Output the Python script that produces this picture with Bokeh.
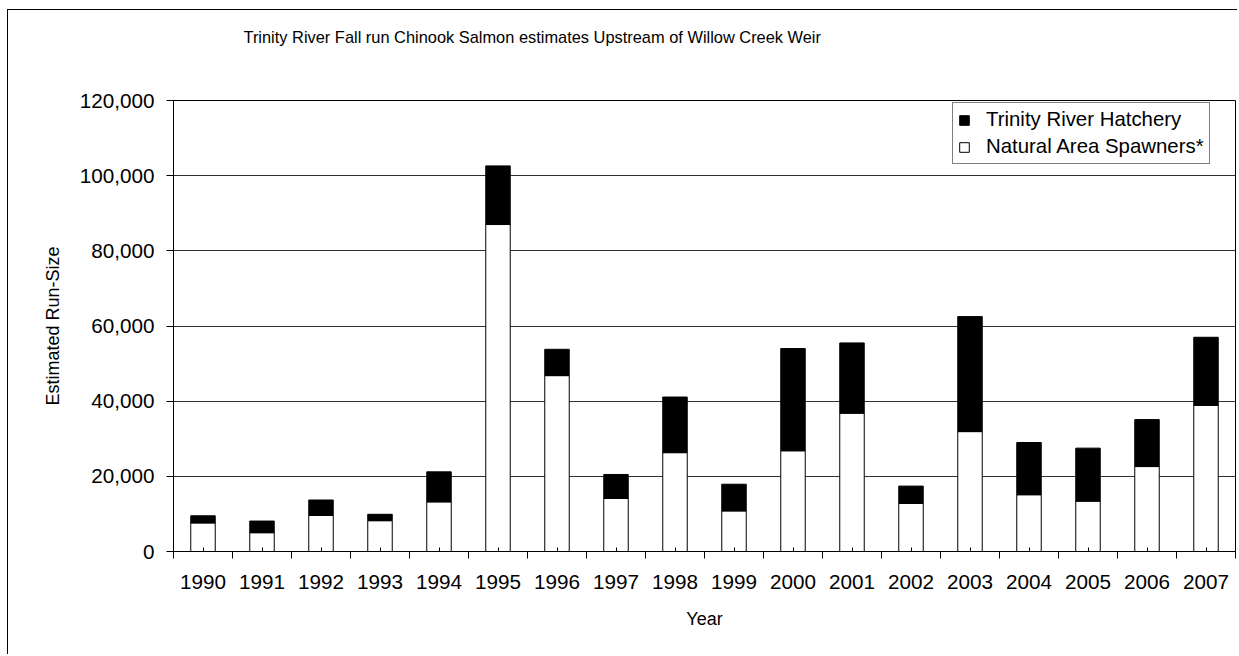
from bokeh.plotting import figure
from bokeh.models import (ColumnDataSource, Range1d, FixedTicker, NumeralTickFormatter,
                          Legend, LegendItem)
from bokeh.embed import file_html
from bokeh.resources import INLINE

# ---- data ----
years = [1990, 1991, 1992, 1993, 1994, 1995, 1996, 1997, 1998,
         1999, 2000, 2001, 2002, 2003, 2004, 2005, 2006, 2007]
natural_spawners = [7600, 5000, 9600, 8200, 13200, 87000, 46800, 14100, 26300,
                    10800, 26800, 36800, 12800, 31900, 15100, 13400, 22600, 38900]
hatchery = [1900, 3100, 4100, 1700, 8000, 15600, 7000, 6400, 14800,
            7100, 27200, 18700, 4600, 30600, 13900, 14100, 12500, 18100]
y_ticks = [0, 20000, 40000, 60000, 80000, 100000, 120000]

title_text = "Trinity River Fall run Chinook Salmon estimates Upstream of Willow Creek Weir"
series_names = ["Natural Area Spawners*", "Trinity River Hatchery"]

FONT = "Liberation Sans"

n = len(years)
xpos = list(range(n))
src = ColumnDataSource(dict(x=xpos, natural=natural_spawners, hatchery=hatchery))

p = figure(width=1230, height=645, output_backend="svg", toolbar_location=None,
           x_range=Range1d(-0.5, n - 0.5), y_range=Range1d(0, 120000),
           min_border_left=165, min_border_right=3, min_border_top=89,
           min_border_bottom=104, background_fill_color="white",
           border_fill_color="white")

rs = p.vbar_stack(["natural", "hatchery"], x="x", width=0.415, source=src,
                  fill_color=["white", "black"], line_color="black", line_width=1)

# x axis: labels at bar centres, small inner ticks there; outer ticks at boundaries
p.xaxis.ticker = FixedTicker(ticks=xpos, minor_ticks=[i - 0.5 for i in range(n + 1)])
p.xaxis.major_label_overrides = {i: str(y) for i, y in zip(xpos, years)}
p.xaxis.major_tick_in = 4
p.xaxis.major_tick_out = 0
p.xaxis.minor_tick_in = 0
p.xaxis.minor_tick_out = 7
p.xaxis.major_label_standoff = 16
p.xaxis.axis_label = "Year"

# y axis
p.yaxis.ticker = FixedTicker(ticks=y_ticks)
p.yaxis.formatter = NumeralTickFormatter(format="0,0")
p.yaxis.major_tick_in = 0
p.yaxis.major_tick_out = 7
p.yaxis.major_label_standoff = 12
p.yaxis.axis_label = "Estimated Run-Size"

for ax in (p.xaxis[0], p.yaxis[0]):
    ax.axis_line_color = "black"
    ax.major_tick_line_color = "black"
    ax.major_label_text_font = FONT
    ax.major_label_text_font_size = "20.7px"
    ax.major_label_text_color = "black"
    ax.axis_label_text_font = FONT
    ax.axis_label_text_font_size = "18px"
    ax.axis_label_text_font_style = "normal"
    ax.axis_label_text_color = "black"
    ax.axis_label_standoff = 14
p.xaxis.axis_label_standoff = 17
p.xaxis.minor_tick_line_color = "black"
p.yaxis.minor_tick_line_color = None

p.xgrid.visible = False
p.ygrid.grid_line_color = "#303030"
p.ygrid.grid_line_width = 1
p.outline_line_color = "black"
p.outline_line_width = 1

# title (two blank trailing lines lift it towards the top of the chart)
p.title.text = title_text + "\n \n "
p.title.text_font = FONT
p.title.text_font_size = "16.4px"
p.title.text_font_style = "normal"
p.title.text_color = "black"
p.title.align = "left"
p.title.vertical_align = "top"
p.title.offset = 70
p.title.standoff = 34

# legend
legend = Legend(items=[LegendItem(label=series_names[1], renderers=[rs[1]]),
                       LegendItem(label=series_names[0], renderers=[rs[0]])],
                location=(779, 387), padding=5, spacing=4, margin=0,
                glyph_width=12, glyph_height=12, label_standoff=16,
                label_text_font=FONT, label_text_font_size="20.4px",
                label_text_color="black", label_height=20,
                border_line_color="black", border_line_width=1,
                background_fill_color="white", background_fill_alpha=1)
p.add_layout(legend)

p.styles = {"margin-left": "7px", "margin-top": "9px",
            "border-left": "1px solid black", "border-top": "1px solid black"}

open("out.html", "w").write(file_html(p, INLINE))
